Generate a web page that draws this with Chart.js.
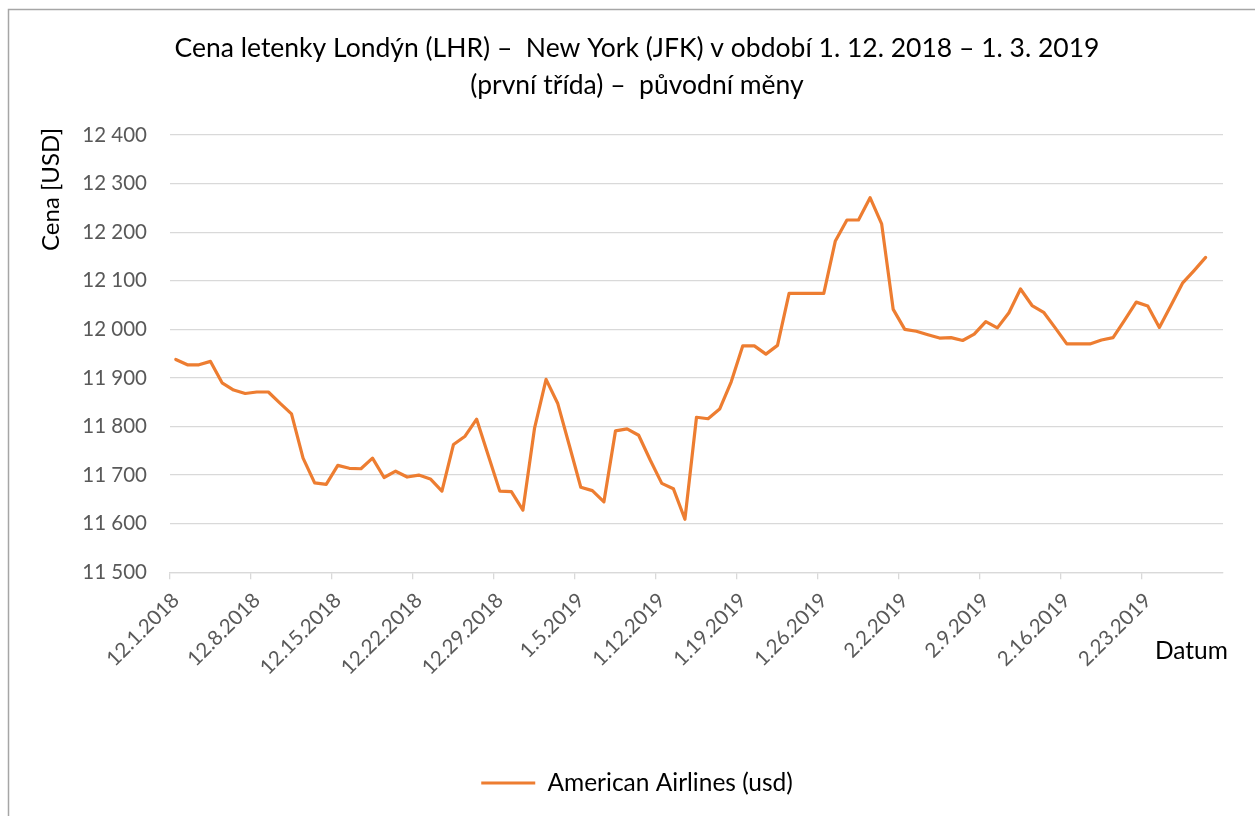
<!DOCTYPE html>
<html>
<head>
<meta charset="utf-8">
<script src="https://cdn.jsdelivr.net/npm/chart.js@4.4.1/dist/chart.umd.min.js"></script>
<style>
  html, body { margin: 0; padding: 0; background: #ffffff; overflow: hidden; }
  #c { display: block; }
</style>
</head>
<body>
<canvas id="c" width="1255" height="816"></canvas>
<script>
// ---- Data ----
const chartTitle = ['Cena letenky Londýn (LHR) –  New York (JFK) v období 1. 12. 2018 – 1. 3. 2019', '(první třída) –  původní měny'];
const seriesName = 'American Airlines (usd)';
const yAxisTitle = 'Cena [USD]';
const xAxisTitle = 'Datum';

const categories = [
  '12.1.2018','12.2.2018','12.3.2018','12.4.2018','12.5.2018','12.6.2018','12.7.2018',
  '12.8.2018','12.9.2018','12.10.2018','12.11.2018','12.12.2018','12.13.2018','12.14.2018',
  '12.15.2018','12.16.2018','12.17.2018','12.18.2018','12.19.2018','12.20.2018','12.21.2018',
  '12.22.2018','12.23.2018','12.24.2018','12.25.2018','12.26.2018','12.27.2018','12.28.2018',
  '12.29.2018','12.30.2018','12.31.2018','1.1.2019','1.2.2019','1.3.2019','1.4.2019',
  '1.5.2019','1.6.2019','1.7.2019','1.8.2019','1.9.2019','1.10.2019','1.11.2019',
  '1.12.2019','1.13.2019','1.14.2019','1.15.2019','1.16.2019','1.17.2019','1.18.2019',
  '1.19.2019','1.20.2019','1.21.2019','1.22.2019','1.23.2019','1.24.2019','1.25.2019',
  '1.26.2019','1.27.2019','1.28.2019','1.29.2019','1.30.2019','1.31.2019','2.1.2019',
  '2.2.2019','2.3.2019','2.4.2019','2.5.2019','2.6.2019','2.7.2019','2.8.2019',
  '2.9.2019','2.10.2019','2.11.2019','2.12.2019','2.13.2019','2.14.2019','2.15.2019',
  '2.16.2019','2.17.2019','2.18.2019','2.19.2019','2.20.2019','2.21.2019','2.22.2019',
  '2.23.2019','2.24.2019','2.25.2019','2.26.2019','2.27.2019','2.28.2019','3.1.2019'
];

const americanAirlines = [
  11938, 11927, 11927, 11934, 11890, 11875, 11868,
  11871, 11871, 11848, 11826, 11735, 11684, 11681,
  11720, 11714, 11713, 11735, 11695, 11708, 11696,
  11700, 11692, 11667, 11763, 11780, 11815, 11741,
  11667, 11666, 11628, 11796, 11897, 11848, 11762,
  11675, 11668, 11645, 11791, 11795, 11782, 11731,
  11683, 11672, 11609, 11819, 11816, 11836, 11892,
  11966, 11966, 11949, 11967, 12074, 12074, 12074,
  12074, 12182, 12225, 12225, 12271, 12217, 12041,
  12000, 11996, 11989, 11982, 11983, 11977, 11990,
  12016, 12003, 12034, 12083, 12049, 12035, 12003,
  11970, 11970, 11970, 11978, 11983, 12019, 12056,
  12048, 12004, 12049, 12095, 12121, 12148, null
];

const yMin = 11500, yMax = 12400, yStep = 100;
const labelEvery = 7;

// ---- Styles ----
const FONT = 'Lato, "Open Sans", "Liberation Sans", sans-serif';
const ORANGE = '#ED7D31';
const GRID = '#d9d9d9';
const TICK_TXT = '#595959';

function fmtThousands(v) {
  return String(v).replace(/\B(?=(\d{3})+(?!\d))/g, ' ');
}

const decorPlugin = {
  id: 'decor',
  beforeDraw(chart) {
    const ctx = chart.ctx;
    ctx.save();
    ctx.fillStyle = '#ffffff';
    ctx.fillRect(0, 0, chart.width, chart.height);
    ctx.strokeStyle = '#a6a6a6';
    ctx.lineWidth = 1.5;
    ctx.beginPath();
    ctx.moveTo(8.5, chart.height + 2);
    ctx.lineTo(8.5, 9.5);
    ctx.lineTo(chart.width + 2, 9.5);
    ctx.stroke();
    ctx.restore();
  },
  afterDraw(chart) {
    const ctx = chart.ctx;
    const area = chart.chartArea;
    ctx.save();
    ctx.fillStyle = '#000000';
    ctx.font = '24px ' + FONT;
    // y axis title
    ctx.translate(51, area.top - 7);
    ctx.rotate(-Math.PI / 2);
    ctx.textAlign = 'right';
    ctx.textBaseline = 'middle';
    ctx.fillText(yAxisTitle, 0, 0);
    ctx.restore();
    // x axis title
    ctx.save();
    ctx.fillStyle = '#000000';
    ctx.font = '24.5px ' + FONT;
    ctx.textAlign = 'left';
    ctx.textBaseline = 'middle';
    ctx.fillText(xAxisTitle, area.right - 68, area.bottom + 79);
    ctx.restore();
  }
};

new Chart(document.getElementById('c'), {
  type: 'line',
  data: {
    labels: categories,
    datasets: [{
      label: seriesName,
      data: americanAirlines,
      borderColor: ORANGE,
      backgroundColor: ORANGE,
      borderWidth: 3.2,
      pointRadius: 0,
      pointHoverRadius: 0,
      tension: 0,
      borderJoinStyle: 'round',
      borderCapStyle: 'round',
      spanGaps: false,
      fill: false
    }]
  },
  options: {
    responsive: false,
    devicePixelRatio: 1,
    animation: false,
    events: [],
    layout: { padding: { left: 51, right: 32, top: 0, bottom: 10.75 } },
    plugins: {
      title: {
        display: true,
        text: chartTitle,
        color: '#000000',
        font: { family: FONT, size: 26.5, weight: 'normal', lineHeight: 37 / 26.5 },
        padding: { top: 29.5, bottom: 31.5 }
      },
      legend: {
        display: true,
        position: 'bottom',
        labels: {
          color: '#000000',
          font: { family: FONT, size: 24.5 },
          usePointStyle: true,
          pointStyle: 'line',
          pointStyleWidth: 54,
          padding: 10
        }
      },
      tooltip: { enabled: false }
    },
    scales: {
      x: {
        type: 'category',
        offset: true,
        afterFit(scale) { scale.height = 188.5; },
        border: { display: true, color: GRID, width: 1.3 },
        grid: {
          offset: true,
          drawOnChartArea: false,
          drawTicks: true,
          tickLength: 7,
          lineWidth: 1.3,
          color: (c) => (c.index % labelEvery === 0 ? GRID : 'rgba(0,0,0,0)')
        },
        ticks: {
          autoSkip: false,
          minRotation: 45,
          maxRotation: 45,
          padding: 9,
          color: TICK_TXT,
          font: { family: FONT, size: 20.5 },
          callback: function (value, index) {
            return index % labelEvery === 0 ? categories[index] : '';
          }
        }
      },
      y: {
        min: yMin,
        max: yMax,
        afterFit(scale) { scale.width = 119; },
        border: { display: false },
        grid: {
          color: GRID,
          lineWidth: 1.3,
          drawTicks: false
        },
        ticks: {
          stepSize: yStep,
          padding: 23,
          color: TICK_TXT,
          font: { family: FONT, size: 20.5 },
          callback: (v) => fmtThousands(v)
        }
      }
    }
  },
  plugins: [decorPlugin]
});
</script>
</body>
</html>
